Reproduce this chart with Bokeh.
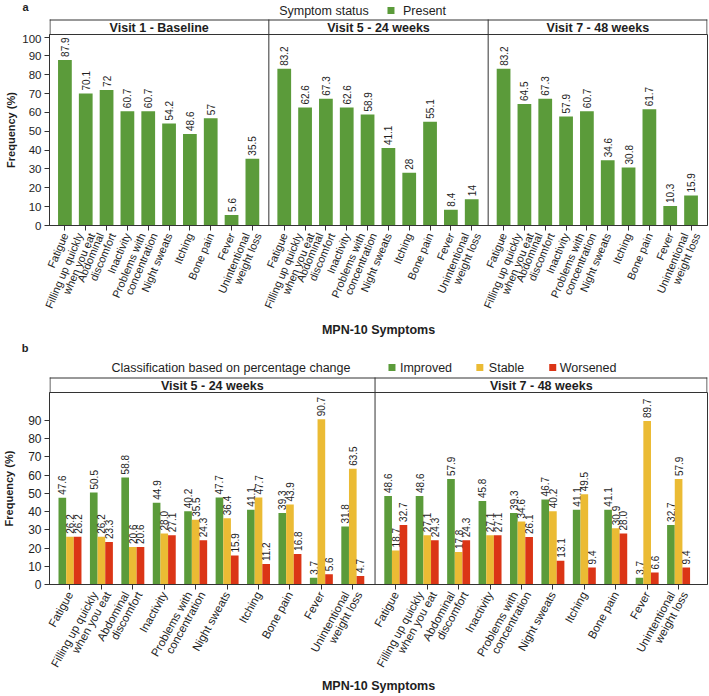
import math

from bokeh.core.properties import value
from bokeh.embed import file_html
from bokeh.layouts import column
from bokeh.models import (ColumnDataSource, CustomJSTickFormatter, FixedTicker,
                          LinearAxis, Range1d)
from bokeh.plotting import figure
from bokeh.resources import INLINE

FONT = "Liberation Sans"
GREEN, YELLOW, RED = "#5b9b3a", "#ebbb34", "#db3516"
INK, FRAME = "#1e1e1e", "#333333"

# ---- data -------------------------------------------------------------
symptoms = [
    "Fatigue",
    "Filling up quickly\nwhen you eat",
    "Abdominal\ndiscomfort",
    "Inactivity",
    "Problems with\nconcentration",
    "Night sweats",
    "Itching",
    "Bone pain",
    "Fever",
    "Unintentional\nweight loss",
]

visits_a = ["Visit 1 - Baseline", "Visit 5 - 24 weeks", "Visit 7 - 48 weeks"]
present_v1 = [87.9, 70.1, 72, 60.7, 60.7, 54.2, 48.6, 57, 5.6, 35.5]
present_v5 = [83.2, 62.6, 67.3, 62.6, 58.9, 41.1, 28, 55.1, 8.4, 14]
present_v7 = [83.2, 64.5, 67.3, 57.9, 60.7, 34.6, 30.8, 61.7, 10.3, 15.9]

visits_b = ["Visit 5 - 24 weeks", "Visit 7 - 48 weeks"]
improved_v5 = [47.6, 50.5, 58.8, 44.9, 40.2, 47.7, 41.1, 39.3, 3.7, 31.8]
stable_v5 = [26.2, 26.2, 20.6, 28.0, 35.5, 36.4, 47.7, 43.9, 90.7, 63.5]
worsened_v5 = [26.2, 23.3, 20.6, 27.1, 24.3, 15.9, 11.2, 16.8, 5.6, 4.7]
improved_v7 = [48.6, 48.6, 57.9, 45.8, 39.3, 46.7, 41.1, 41.1, 3.7, 32.7]
stable_v7 = [18.7, 27.1, 17.8, 27.1, 34.6, 40.2, 49.5, 30.9, 89.7, 57.9]
worsened_v7 = [32.7, 24.3, 24.3, 27.1, 26.1, 13.1, 9.4, 28.0, 6.6, 9.4]

yticks_a = list(range(0, 101, 10))
yticks_b = list(range(0, 91, 10))

BORDER_L, BORDER_R, FRAME_W = 48, 2, 659


# ---- header: panel tag, legend and facet strips --------------------------
def header(height, x_end, tag, tag_y, legend_y, legend, strip_top, lefts,
           rights, titles):
    """Rows above a panel; x shares the panel's data range, y is in pixels."""
    pxu = FRAME_W / x_end
    h = figure(width=709, height=height, output_backend="svg",
               toolbar_location=None, x_range=Range1d(0, x_end),
               y_range=Range1d(height, 0), x_axis_type=None,
               y_axis_type=None, min_border_left=BORDER_L,
               min_border_right=BORDER_R, min_border_top=0,
               min_border_bottom=0)
    h.outline_line_color = None
    h.grid.visible = False

    # panel tag ("a" / "b") set as the single label of a bare left axis
    tag_axis = LinearAxis(ticker=FixedTicker(ticks=[tag_y]),
                          formatter=CustomJSTickFormatter(
                              args=dict(t=tag), code="return t;"))
    tag_axis.axis_line_color = None
    tag_axis.major_tick_line_color = None
    tag_axis.minor_tick_line_color = None
    tag_axis.major_tick_out = 0
    tag_axis.major_label_standoff = 21
    tag_axis.major_label_text_font = FONT
    tag_axis.major_label_text_font_size = "11px"
    tag_axis.major_label_text_font_style = "bold"
    tag_axis.major_label_text_color = INK
    h.add_layout(tag_axis, "left")

    # legend: title, then coloured keys with their names
    for kind, cx, content in legend:
        x = (cx - BORDER_L) / pxu
        if kind == "text":
            h.text(x=[x], y=[legend_y], text=[content],
                   text_font=value(FONT), text_font_size="12.5px",
                   text_align="left", text_baseline="middle",
                   text_color=INK)
        else:
            h.scatter(x=[x], y=[legend_y], marker="square", size=7,
                      fill_color=content, line_color=None)

    # facet strips (bottom edge comes from the panel outline below)
    half = 0.5 / pxu
    h.quad(left=lefts, right=rights, bottom=height, top=strip_top,
           fill_color="white", line_color=None)
    h.segment(x0=[0], y0=[strip_top + 0.5], x1=[x_end], y1=[strip_top + 0.5],
              line_color=FRAME, line_width=1)
    xs = [half] + lefts[1:] + [x_end - half]
    h.segment(x0=xs, y0=[strip_top] * len(xs), x1=xs, y1=[height] * len(xs),
              line_color=FRAME, line_width=1)
    h.text(x=[(l + r) / 2 for l, r in zip(lefts, rights)],
           y=[(strip_top + height) / 2 + 0.5] * len(titles), text=titles,
           text_font=value(FONT), text_font_size="12.5px",
           text_font_style="bold", text_align="center",
           text_baseline="middle", text_color=INK)
    return h


# ---- panel body ----------------------------------------------------------
def panel(height, x_end, y_end, yticks, ytick_px, ylab_standoff):
    p = figure(width=709, height=height, output_backend="svg",
               toolbar_location=None, x_range=Range1d(0, x_end),
               y_range=Range1d(0, y_end), min_border_left=BORDER_L,
               min_border_right=BORDER_R, min_border_top=0,
               min_border_bottom=108, background_fill_color="white",
               border_fill_color="white")
    p.outline_line_color = FRAME
    p.outline_line_width = 1
    p.xgrid.visible = False
    p.ygrid.visible = False
    for ax in (p.xaxis[0], p.yaxis[0]):
        ax.axis_line_color = FRAME
        ax.major_tick_line_color = FRAME
        ax.minor_tick_line_color = None
        ax.major_tick_out = 5
        ax.major_tick_in = 0
        ax.major_label_text_font = FONT
        ax.major_label_text_color = INK
        ax.major_label_standoff = 3
    p.yaxis.ticker = FixedTicker(ticks=yticks)
    p.yaxis.major_label_text_font_size = ytick_px
    p.yaxis.axis_label = "Frequency (%)"
    p.yaxis.axis_label_text_font = FONT
    p.yaxis.axis_label_text_font_style = "bold"
    p.yaxis.axis_label_text_color = INK
    p.yaxis.axis_label_text_font_size = "11px"
    p.yaxis.axis_label_standoff = ylab_standoff
    return p


def symptom_axis(p, centers, labels, font_px, angle, x_end, xlab_standoff):
    """Tick marks at each bar/group; one rotated label per text line below."""
    tick_axis = p.xaxis[0]
    tick_axis.ticker = FixedTicker(ticks=centers)
    tick_axis.formatter = CustomJSTickFormatter(code="return '';")
    tick_axis.major_label_text_font_size = "0px"
    tick_axis.major_label_standoff = 0

    # lines one font-height apart, measured across the slanted text
    pxu = FRAME_W / x_end
    step = font_px / math.sin(angle) / pxu
    ticks, lines = [], []
    for c, lab in zip(centers, labels):
        parts = lab.split("\n")
        for j, line in enumerate(parts):
            ticks.append(c + (j - (len(parts) - 1) / 2) * step)
            lines.append(line)
    lab_axis = LinearAxis(ticker=FixedTicker(ticks=ticks),
                          formatter=CustomJSTickFormatter(
                              args=dict(labels=lines),
                              code="return labels[index];"))
    lab_axis.axis_line_color = None
    lab_axis.major_tick_line_color = None
    lab_axis.minor_tick_line_color = None
    lab_axis.major_tick_out = 0
    lab_axis.major_tick_in = 0
    lab_axis.major_label_standoff = 3
    lab_axis.major_label_orientation = angle
    lab_axis.major_label_text_font = FONT
    lab_axis.major_label_text_font_size = f"{font_px}px"
    lab_axis.major_label_text_color = INK
    lab_axis.axis_label = "MPN-10 Symptoms"
    lab_axis.axis_label_text_font = FONT
    lab_axis.axis_label_text_font_size = "12.5px"
    lab_axis.axis_label_text_font_style = "bold"
    lab_axis.axis_label_text_color = INK
    lab_axis.axis_label_standoff = xlab_standoff
    p.add_layout(lab_axis, "below")


def value_labels(p, src):
    p.text(x="x", y="top", text="label", source=src, angle=math.pi / 2,
           text_align="left", text_baseline="middle", y_offset=-3,
           text_font=value(FONT), text_font_size="10px", text_color=INK)


def separators(p, seps, y_end):
    p.segment(x0=seps, y0=[0] * len(seps), x1=seps, y1=[y_end] * len(seps),
              line_color=FRAME, line_width=1)


# ---- panel a: symptom present -----------------------------------------
Wa, PADa, BARa = 10.53, 0.74, 0.66
XA_END, YA_END = 3 * Wa, 101.4
lefts_a = [k * Wa for k in range(3)]
rights_a = [(k + 1) * Wa for k in range(3)]

xa, ya, la = [], [], []
for k, vals in enumerate([present_v1, present_v5, present_v7]):
    for i, v in enumerate(vals):
        xa.append(lefts_a[k] + PADa + i)
        ya.append(v)
        la.append(f"{v:g}")
src_a = ColumnDataSource(dict(x=xa, top=ya, label=la))

head_a = header(34, XA_END, "a", 6, 10,
                [("text", 278, "Symptom status"),
                 ("key", 390, GREEN),
                 ("text", 402, "Present")],
                19, lefts_a, rights_a, visits_a)

pa = panel(306, XA_END, YA_END, yticks_a, "11.5px", 2)
pa.vbar(x="x", top="top", width=BARa, bottom=0, source=src_a,
        fill_color=GREEN, line_color=None)
value_labels(pa, src_a)
separators(pa, lefts_a[1:], YA_END)
symptom_axis(pa, xa, symptoms * 3, 11, math.radians(67), XA_END, 8)

# ---- panel b: change classification ------------------------------------
lefts_b = [0.0, 10.36]
rights_b = [10.36, 20.94]
first_b = [0.652, 11.02]
BARb = 0.2436
XB_END, YB_END = rights_b[-1], 105.4

head_b = header(52, XB_END, "b", 5, 27,
                [("text", 110, "Classification based on percentage change"),
                 ("key", 391, GREEN), ("text", 399, "Improved"),
                 ("key", 479, YELLOW), ("text", 488, "Stable"),
                 ("key", 552, RED), ("text", 559, "Worsened")],
                37, lefts_b, rights_b, visits_b)

pb = panel(304, XB_END, YB_END, yticks_b, "12px", 10)
series_b = [
    (GREEN, -BARb, [improved_v5, improved_v7]),
    (YELLOW, 0.0, [stable_v5, stable_v7]),
    (RED, BARb, [worsened_v5, worsened_v7]),
]
centers_b = [first_b[k] + i for k in range(2) for i in range(10)]
for color, off, per_visit in series_b:
    xs, ys, ls = [], [], []
    for k, vals in enumerate(per_visit):
        for i, v in enumerate(vals):
            xs.append(first_b[k] + i + off)
            ys.append(v)
            ls.append(f"{v:.1f}")
    src = ColumnDataSource(dict(x=xs, top=ys, label=ls))
    pb.vbar(x="x", top="top", width=BARb, bottom=0, source=src,
            fill_color=color, line_color=None)
    value_labels(pb, src)
separators(pb, lefts_b[1:], YB_END)
symptom_axis(pb, centers_b, symptoms * 2, 11.5, math.radians(61), XB_END, 4)

layout = column(head_a, pa, head_b, pb, spacing=0)
open("out.html", "w").write(file_html(layout, INLINE))
